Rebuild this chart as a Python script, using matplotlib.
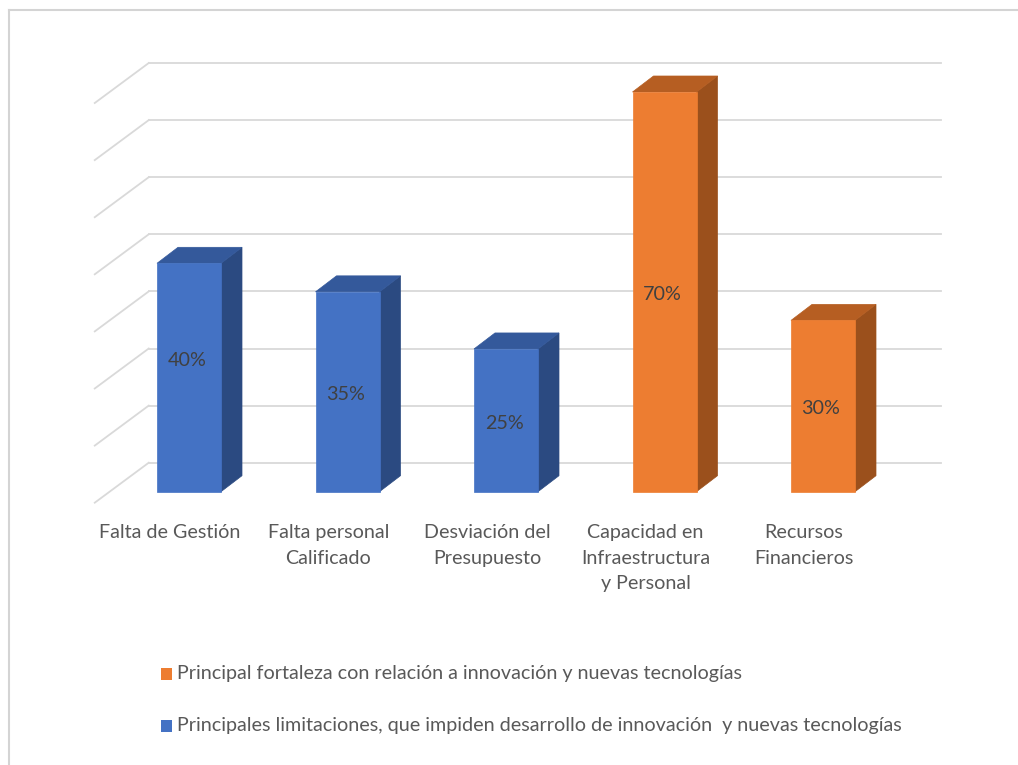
import matplotlib
matplotlib.use("Agg")
import matplotlib.pyplot as plt
from matplotlib.patches import Polygon, Rectangle
from matplotlib.lines import Line2D

plt.rcParams['font.family'] = ['Lato', 'DejaVu Sans']

categories = ["Falta de Gestión", "Falta personal\nCalificado", "Desviación del\nPresupuesto",
              "Capacidad en\nInfraestructura\ny Personal", "Recursos\nFinancieros"]
values = [40, 35, 25, 70, 30]
groups = [1, 1, 1, 0, 0]   # 0 = fortaleza, 1 = limitaciones
series_names = ["Principal fortaleza con relación a innovación y nuevas tecnologías",
                "Principales limitaciones, que impiden desarrollo de innovación  y nuevas tecnologías"]
grid_values = [0, 10, 20, 30, 40, 50, 60, 70]

# front / top / side shades for each series
shades = [("#ED7D31", "#B65E22", "#9B501C"),
          ("#4472C4", "#34599B", "#2B4A81")]

W, H = 1018, 765
fig = plt.figure(figsize=(W / 100, H / 100), dpi=100)

# axes = plane of the bars' front faces
px_x = 158.5          # pixels per category
px_y = 5.71           # pixels per percent
left_px, base_px = 189 - 0.5 * px_x, 491.7
ax = fig.add_axes([left_px / W, (H - base_px) / H, 5 * px_x / W, 70 * px_y / H])
ax.set_xlim(-0.5, 4.5)
ax.set_ylim(0, 70)
ax.axis('off')

# perspective offsets (data units)
back_dx, back_dy = 39 / px_x, 29 / px_y        # back wall
floor_dx, floor_dy = -15 / px_x, -11 / px_y    # front edge of floor
depth_dx, depth_dy = 21 / px_x, 16 / px_y      # bar depth
bar_w = 64 / px_x

grid_col = "#D9D9D9"
for v in grid_values:
    ax.plot([-0.5 + back_dx, 4.5 + back_dx], [v + back_dy, v + back_dy],
            color=grid_col, lw=1.3, clip_on=False, zorder=1)
    ax.plot([-0.5 + back_dx, -0.5 + floor_dx], [v + back_dy, v + floor_dy],
            color=grid_col, lw=1.3, clip_on=False, zorder=1)

label_shift = [3.0, -0.5, -0.5, -0.5, -0.5]
fs = 14.2
for i, (v, g) in enumerate(zip(values, groups)):
    front, top, side = shades[g]
    x0, x1 = i - bar_w / 2, i + bar_w / 2
    ax.add_patch(Polygon([(x1, 0), (x1 + depth_dx, depth_dy), (x1 + depth_dx, v + depth_dy), (x1, v)],
                         closed=True, fc=side, ec=side, lw=0.5, clip_on=False, zorder=3))
    ax.add_patch(Polygon([(x0, v), (x1, v), (x1 + depth_dx, v + depth_dy), (x0 + depth_dx, v + depth_dy)],
                         closed=True, fc=top, ec=top, lw=0.5, clip_on=False, zorder=3))
    ax.add_patch(Rectangle((x0, 0), bar_w, v, fc=front, ec=front, lw=0.5, clip_on=False, zorder=4))
    ax.text(i - 2 / px_x, v / 2 + label_shift[i], f"{v}%", ha='center', va='center',
            fontsize=fs, color="#404040", zorder=5)

for i, c in enumerate(categories):
    ax.text(i - 19 / px_x, -32 / px_y, c, ha='center', va='top', fontsize=fs,
            color="#595959", linespacing=1.63, clip_on=False)

# legend
for k, yc in enumerate([674, 726]):
    fig.add_artist(Rectangle((161 / W, 1 - (yc + 6) / H), 11 / W, 12 / H,
                             transform=fig.transFigure, fc=shades[k][0], ec='none'))
    fig.text(177 / W, 1 - yc / H, series_names[k], ha='left', va='center',
             fontsize=fs, color="#595959")

# chart frame
fig.add_artist(Line2D([9 / W, 1], [1 - 10 / H, 1 - 10 / H], transform=fig.transFigure,
                      color="#D4D4D4", lw=1.5))
fig.add_artist(Line2D([9 / W, 9 / W], [0, 1 - 10 / H], transform=fig.transFigure,
                      color="#D4D4D4", lw=1.5))

fig.savefig("out.png", dpi=100, facecolor="white")
